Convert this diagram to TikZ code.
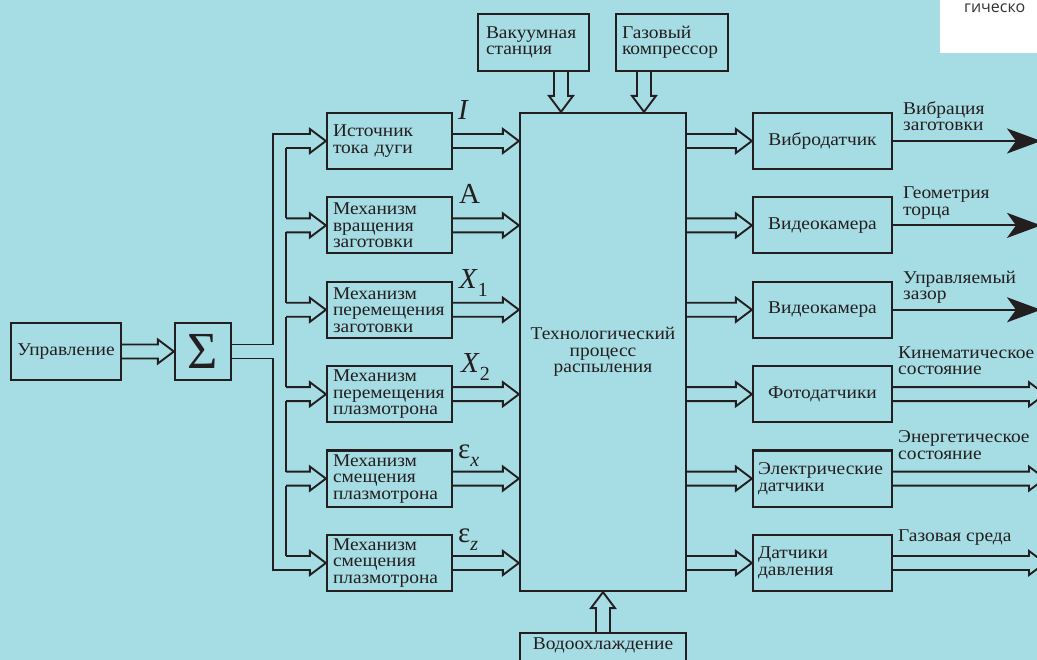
\documentclass[tikz,border=0pt]{standalone}
\usepackage{fontspec}
\setmainfont{Liberation Serif}[FakeStretch=1.08]
\newfontfamily\sigmafont{Liberation Serif}
\newfontfamily\cutfont{Open Sans}
\usetikzlibrary{arrows.meta,calc}
\definecolor{bg}{RGB}{166,220,227}
\definecolor{ink}{RGB}{35,31,32}
\definecolor{cutgray}{RGB}{50,50,50}
\newcommand{\txt}{\fontsize{18}{16.5}\selectfont}
\newcommand{\lsub}[1]{\raisebox{-8pt}{\fontsize{20}{20}\selectfont #1}}
\newcommand{\harr}[2]{\draw[arr] let \p1=(#1), \p2=(#2) in
  (\x1,\y2+7pt) -- (\x2-16pt,\y2+7pt) -- (\x2-16pt,\y2+12pt) -- (\x2,\y2)
  -- (\x2-16pt,\y2-12pt) -- (\x2-16pt,\y2-7pt) -- (\x1,\y2-7pt);}
\newcommand{\darr}[2]{\draw[arr] let \p1=(#1), \p2=(#2) in
  (\x2-7pt,\y1) -- (\x2-7pt,\y2+16pt) -- (\x2-12pt,\y2+16pt) -- (\x2,\y2)
  -- (\x2+12pt,\y2+16pt) -- (\x2+7pt,\y2+16pt) -- (\x2+7pt,\y1);}
\newcommand{\uarr}[2]{\draw[arr] let \p1=(#1), \p2=(#2) in
  (\x2-7pt,\y1) -- (\x2-7pt,\y2-16pt) -- (\x2-12pt,\y2-16pt) -- (\x2,\y2)
  -- (\x2+12pt,\y2-16pt) -- (\x2+7pt,\y2-16pt) -- (\x2+7pt,\y1);}
\begin{document}
\begin{tikzpicture}[x=1pt,y=-1pt,
  box/.style={draw=ink, line width=2.2pt, inner sep=0pt, font=\txt, text=ink},
  lbox/.style={box, minimum width=125, minimum height=56, text width=113, align=left, inner xsep=6pt},
  rbox/.style={box, minimum width=139, minimum height=56, align=center},
  arr/.style={draw=ink, line width=1.9pt},
  lab/.style={anchor=base west, inner sep=0pt, text=ink, font=\sigmafont\fontsize{29}{30}\selectfont},
  rl/.style={anchor=south west, inner sep=0pt, text depth=0pt, align=left, text=ink, font=\txt}]
\fill[bg] (0,0) rectangle (1037,660);
\useasboundingbox (0,0) rectangle (1037,660);
% white fragment top right
\fill[white] (940,0) rectangle (1040,53);
\node[anchor=base west, inner sep=0pt, text=cutgray, font=\cutfont\fontsize{16}{16}\selectfont] (cut) at (964,12.5) {гическо};
% nodes
\node[box, minimum width=110, minimum height=57] (U) at (66,351.5) {Управление};
\node[box, minimum width=56, minimum height=57, font=\sigmafont\fontsize{52}{52}\selectfont] (S) at (203,351.5) {Σ};
\node[lbox] (L1) at (389.5,141) {Источник\\тока дуги};
\node[lbox] (L2) at (389.5,225.4) {Механизм\\вращения\\заготовки};
\node[lbox] (L3) at (389.5,309.8) {Механизм\\перемещения\\заготовки};
\node[lbox] (L4) at (389.5,394.2) {Механизм\\перемещения\\плазмотрона};
\node[lbox] (L5) at (389.5,478.6) {Механизм\\смещения\\плазмотрона};
\node[lbox] (L6) at (389.5,563) {Механизм\\смещения\\плазмотрона};
\node[box, minimum width=166, minimum height=478, align=center] (M) at (603,352) {Технологический\\процесс\\распыления};
\node[box, minimum width=111, minimum height=57, text width=95, inner xsep=8pt, align=left] (V) at (533.5,42.5) {Вакуумная\\станция};
\node[box, minimum width=112, minimum height=57, text width=100, inner xsep=6pt, align=left] (G) at (672,42.5) {Газовый\\компрессор};
\node[box, minimum width=166, anchor=north, text height=12pt, text depth=20pt, inner ysep=4pt] (W) at (603,632) {Водоохлаждение};
\node[rbox] (R1) at (822.5,141) {Вибродатчик};
\node[rbox] (R2) at (822.5,225.4) {Видеокамера};
\node[rbox] (R3) at (822.5,309.8) {Видеокамера};
\node[rbox] (R4) at (822.5,394.2) {Фотодатчики};
\node[rbox, text width=129, inner xsep=5pt, align=left] (R5) at (822.5,478.6) {Электрические\\датчики};
\node[rbox, text width=129, inner xsep=5pt, align=left] (R6) at (822.5,563) {Датчики\\давления};
% labels
\node[lab] (l1) at (458,120) {\textit{I}};
\node[lab] (l2) at (459,204) {A};
\node[lab] (l3) at (459,289) {\textit{X}\lsub{1}};
\node[lab] (l4) at (461,373) {\textit{X}\lsub{2}};
\node[lab] (l5) at (458,458) {ε\lsub{\textit{x}}};
\node[lab] (l6) at (458,542) {ε\lsub{\textit{z}}};
\node[rl] (o1) at (903,131) {Вибрация\\заготовки};
\node[rl] (o2) at (903,215.4) {Геометрия\\торца};
\node[rl] (o3) at (903,299.8) {Управляемый\\зазор};
\node[rl] (o4) at (898,375) {Кинематическое\\состояние};
\node[rl] (o5) at (898,459.4) {Энергетическое\\состояние};
\node[rl] (o6) at (898,542) {Газовая среда};
% coordinates
\coordinate (b1) at (273,0);
\coordinate (b2) at (286,0);
\coordinate (vt) at (561,0);
\coordinate (gt) at (644,0);
\coordinate (E1) at (1041,0);
\coordinate (E2) at (1045,0);
% connectors
\harr{U.east}{S.west}
\draw[arr] ($(S.east)+(0,7pt)$) -| ($(b1 |- L1.west)+(0,7pt)$) -- ($(b2 |- L1.west)+(0,7pt)$);
\draw[arr] ($(S.east)+(0,-7pt)$) -| ($(b1 |- L6.west)+(0,-7pt)$) -- ($(b2 |- L6.west)+(0,-7pt)$);
\foreach \a/\b in {L1/L2,L2/L3,L3/L4,L4/L5,L5/L6}{
  \draw[arr] ($(b2 |- \a.west)+(0,-7pt)$) -- ($(b2 |- \b.west)+(0,7pt)$);}
\foreach \k in {L1,L2,L3,L4,L5,L6}{
  \harr{b2}{\k.west}
  \harr{\k.east}{\k.east -| M.west}}
\foreach \k in {R1,R2,R3,R4,R5,R6}{
  \harr{M.east |- \k.west}{\k.west}}
\foreach \k in {R1,R2,R3}{
  \draw[arr, -{Stealth[length=34pt,width=25pt,inset=9pt]}] (\k.east) -- (\k.east -| E1);}
\foreach \k in {R4,R5,R6}{
  \harr{\k.east}{\k.east -| E2}}
\darr{vt |- V.south}{vt |- M.north}
\darr{gt |- G.south}{gt |- M.north}
\uarr{W.north}{M.south}
\end{tikzpicture}
\end{document}
